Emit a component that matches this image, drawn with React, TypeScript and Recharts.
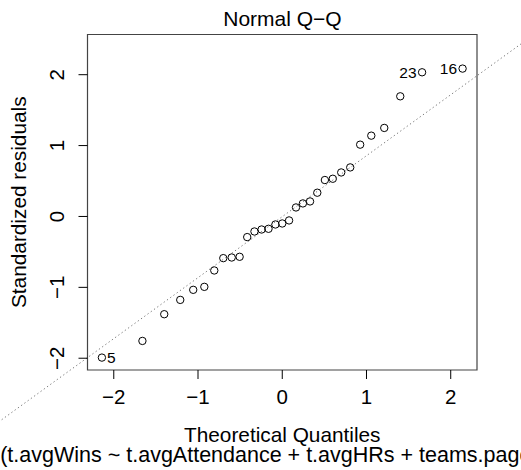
import { ScatterChart, Scatter, XAxis, YAxis, ReferenceLine, ReferenceArea, Label } from "recharts";

// theoretical normal quantiles for the 31 residuals
const THEO_Q = [
  -2.141, -1.66, -1.401, -1.211, -1.057, -0.925, -0.807, -0.7, -0.6, -0.506, -0.416,
  -0.33, -0.245, -0.163, -0.081, 0, 0.081, 0.163, 0.245, 0.33, 0.416, 0.506, 0.6,
  0.7, 0.807, 0.925, 1.057, 1.211, 1.401, 1.66, 2.141,
];

// sorted standardized residuals
const STD_RESID = [
  -1.991, -1.756, -1.379, -1.177, -1.035, -0.993, -0.762, -0.588, -0.579, -0.569, -0.291,
  -0.212, -0.184, -0.174, -0.113, -0.099, -0.056, 0.127, 0.184, 0.212, 0.335, 0.514,
  0.532, 0.621, 0.692, 1.013, 1.14, 1.249, 1.695, 2.034, 2.086,
];

// observation numbers printed next to the extreme points
const ID_INDEX = [0, 29, 30];
const ID_TEXT = ["5", "23", "16"];

const X_TICKS = [-2, -1, 0, 1, 2];
const Y_TICKS = [-2, -1, 0, 1, 2];
const X_DOMAIN = [-2.312, 2.312];
const Y_DOMAIN = [-2.166, 2.567];

// qqline ends (through the quartiles), drawn past the plot box like R does
const QQ_LINE = [
  { x: -3.6, y: -3.099 },
  { x: 3.0, y: 2.577 },
];

const TITLE = "Normal Q\u2212Q";
const X_LABEL = "Theoretical Quantiles";
const Y_LABEL = "Standardized residuals";
// R cuts this caption at the window edges
const SUB_CAPTION = "lm(t.avgWins ~ t.avgAttendance + t.avgHRs + teams.pageviews)";

const FONT = '"Liberation Sans", Arial, Helvetica, sans-serif';

const data = THEO_Q.map((x, i) => {
  const k = ID_INDEX.indexOf(i);
  return { x, y: STD_RESID[i], id: k >= 0 ? ID_TEXT[k] : "" };
});

const fmt = (v: number) => String(v).replace("-", "\u2212");

function PointShape(props: any) {
  const { cx, cy, payload } = props;
  const right = payload.x > 0;
  return (
    <g>
      <circle cx={cx} cy={cy} r={3.7} fill="none" stroke="#000" strokeWidth={1} />
      {payload.id && (
        <text
          x={right ? cx - 5.5 : cx + 5}
          y={cy}
          dy="0.36em"
          textAnchor={right ? "end" : "start"}
          fontSize={15.5}
          fontFamily={FONT}
          fill="#000"
        >
          {payload.id}
        </text>
      )}
    </g>
  );
}

function XTick(props: any) {
  const { x, y, payload } = props;
  return (
    <text x={x} y={y + 25} textAnchor="middle" fontSize={20.5} fontFamily={FONT} fill="#000">
      {fmt(payload.value)}
    </text>
  );
}

function YTick(props: any) {
  const { x, y, payload } = props;
  const bx = x - 14;
  return (
    <text
      x={bx}
      y={y}
      transform={`rotate(-90, ${bx}, ${y})`}
      textAnchor="middle"
      fontSize={20.5}
      fontFamily={FONT}
      fill="#000"
    >
      {fmt(payload.value)}
    </text>
  );
}

export default function App() {
  return (
    <div style={{ position: "absolute", left: 0, top: 0, width: 521, height: 470, background: "#fff", overflow: "hidden" }}>
      <ScatterChart width={521} height={470} margin={{ top: 34.5, right: 44, bottom: 0, left: 0 }}>
        <XAxis
          type="number"
          dataKey="x"
          domain={X_DOMAIN}
          allowDataOverflow
          ticks={X_TICKS}
          tick={XTick}
          tickSize={9}
          tickMargin={0}
          tickLine={{ stroke: "#000" }}
          axisLine={false}
          height={100}
        >
          <Label
            content={(p: any) => {
              const vb = p.viewBox;
              const cx = vb.x + vb.width / 2;
              return (
                <g fontFamily={FONT} fill="#000">
                  <text x={cx} y={vb.y + 71.5} textAnchor="middle" fontSize={20.8}>
                    {X_LABEL}
                  </text>
                  <text x={-22.5} y={vb.y + 91.5} textAnchor="start" fontSize={21.5}>
                    {SUB_CAPTION}
                  </text>
                </g>
              );
            }}
          />
        </XAxis>
        <YAxis
          type="number"
          dataKey="y"
          domain={Y_DOMAIN}
          allowDataOverflow
          ticks={Y_TICKS}
          tick={YTick}
          tickSize={9}
          tickMargin={0}
          tickLine={{ stroke: "#000" }}
          axisLine={false}
          width={87.5}
        >
          <Label
            content={(p: any) => {
              const vb = p.viewBox;
              const cy = vb.y + vb.height / 2;
              return (
                <text
                  x={26}
                  y={cy}
                  transform={`rotate(-90, 26, ${cy})`}
                  textAnchor="middle"
                  fontFamily={FONT}
                  fontSize={20.8}
                  fill="#000"
                >
                  {Y_LABEL}
                </text>
              );
            }}
          />
        </YAxis>
        <ReferenceLine
          segment={QQ_LINE}
          ifOverflow="visible"
          stroke="#7a7a7a"
          strokeDasharray="1.3 2.7"
          strokeWidth={1}
        />
        <ReferenceArea
          x1={X_DOMAIN[0]}
          x2={X_DOMAIN[1]}
          y1={Y_DOMAIN[0]}
          y2={Y_DOMAIN[1]}
          fill="none"
          stroke="#444"
          strokeWidth={1.2}
          ifOverflow="visible"
        />
        <Scatter data={data} shape={PointShape} isAnimationActive={false} />
      </ScatterChart>
      <svg
        width={521}
        height={470}
        style={{ position: "absolute", left: 0, top: 0, pointerEvents: "none" }}
      >
        <text x={282.5} y={26} textAnchor="middle" fontFamily={FONT} fontSize={21} fill="#000">
          {TITLE}
        </text>
      </svg>
    </div>
  );
}
